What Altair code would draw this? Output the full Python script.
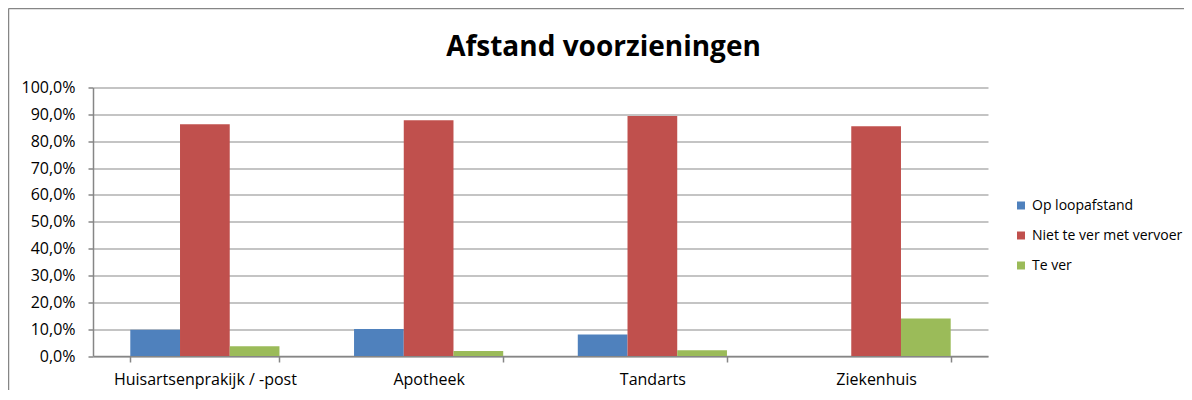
import altair as alt
import pandas as pd

categories = ["Huisartsenprakijk / -post", "Apotheek", "Tandarts", "Ziekenhuis"]
series = ["Op loopafstand", "Niet te ver met vervoer", "Te ver"]
op_loopafstand = [9.8, 10.1, 8.0, 0.0]
niet_te_ver_met_vervoer = [86.3, 87.8, 89.4, 85.6]
te_ver = [3.6, 1.9, 2.1, 14.0]
colors = ["#4F81BD", "#C0504D", "#9BBB59"]
y_ticks = list(range(0, 101, 10))

rows = []
for s, vals in zip(series, [op_loopafstand, niet_te_ver_met_vervoer, te_ver]):
    for c, v in zip(categories, vals):
        rows.append({"categorie": c, "reeks": s, "waarde": v})
df = pd.DataFrame(rows)

W, H = 895, 268.5
PL, PT = 85, 79.5
PR = 1176 - PL - W
PB = 384 - PT - H - 2
FONT = "Open Sans"

bars = alt.Chart(df).mark_bar(clip=False).encode(
    x=alt.X(
        "categorie:N",
        sort=categories,
        scale=alt.Scale(paddingInner=1 / 3, paddingOuter=1 / 6),
        axis=alt.Axis(
            title=None,
            labelAngle=0,
            tickBand="extent",
            tickSize=6,
            labelPadding=9,
            labelFontSize=16,
            labelLimit=400,
            grid=False,
        ),
    ),
    xOffset=alt.XOffset(
        "reeks:N", sort=series, scale=alt.Scale(paddingInner=0, paddingOuter=0)
    ),
    y=alt.Y(
        "waarde:Q",
        scale=alt.Scale(domain=[0, 100], nice=False),
        axis=alt.Axis(
            title=None,
            values=y_ticks,
            labelExpr="replace(format(datum.value, '.1f'), '.', ',') + '%'",
            tickSize=5,
            labelPadding=13,
            labelFontSize=16,
            grid=True,
        ),
    ),
    color=alt.Color(
        "reeks:N",
        sort=series,
        scale=alt.Scale(domain=series, range=colors),
        legend=alt.Legend(
            title=None,
            orient="none",
            legendX=921,
            legendY=111,
            symbolType="square",
            symbolSize=64,
            symbolStrokeWidth=0,
            labelFontSize=14,
            labelFont=FONT,
            labelColor="#000000",
            labelOffset=4,
            rowPadding=16,
            padding=0,
        ),
    ),
)

frame_data = pd.DataFrame({"k": [0]})
frame_top = alt.Chart(frame_data).mark_rule(
    stroke="#868686", strokeWidth=1.5, clip=False
).encode(
    x=alt.value(-PL + 0.5),
    x2=alt.value(W + PR + 40),
    y=alt.value(-PT + 0.5),
)
frame_left = alt.Chart(frame_data).mark_rule(
    stroke="#868686", strokeWidth=1.5, clip=False
).encode(
    x=alt.value(-PL + 0.5),
    y=alt.value(-PT + 0.5),
    y2=alt.value(H + PB + 40),
)

chart = (
    alt.layer(frame_top, frame_left, bars)
    .properties(
        width=W,
        height=H,
        autosize=alt.AutoSizeParams(type="none"),
        padding={"left": PL, "top": PT, "right": PR, "bottom": PB},
        title=alt.TitleParams(
            "Afstand voorzieningen",
            font=FONT,
            fontSize=28,
            fontWeight="bold",
            color="#000000",
            anchor="middle",
            baseline="alphabetic",
            dx=63,
            dy=76,
            offset=0,
        ),
    )
    .configure_view(stroke=None)
    .configure_axis(
        labelFont=FONT,
        labelColor="#000000",
        domainColor="#868686",
        domainWidth=1.5,
        tickColor="#868686",
        tickWidth=1.5,
        gridColor="#8a8a8a",
        gridWidth=1.2,
    )
)

chart.save("out.html", embed_options={"renderer": "svg", "actions": False})
